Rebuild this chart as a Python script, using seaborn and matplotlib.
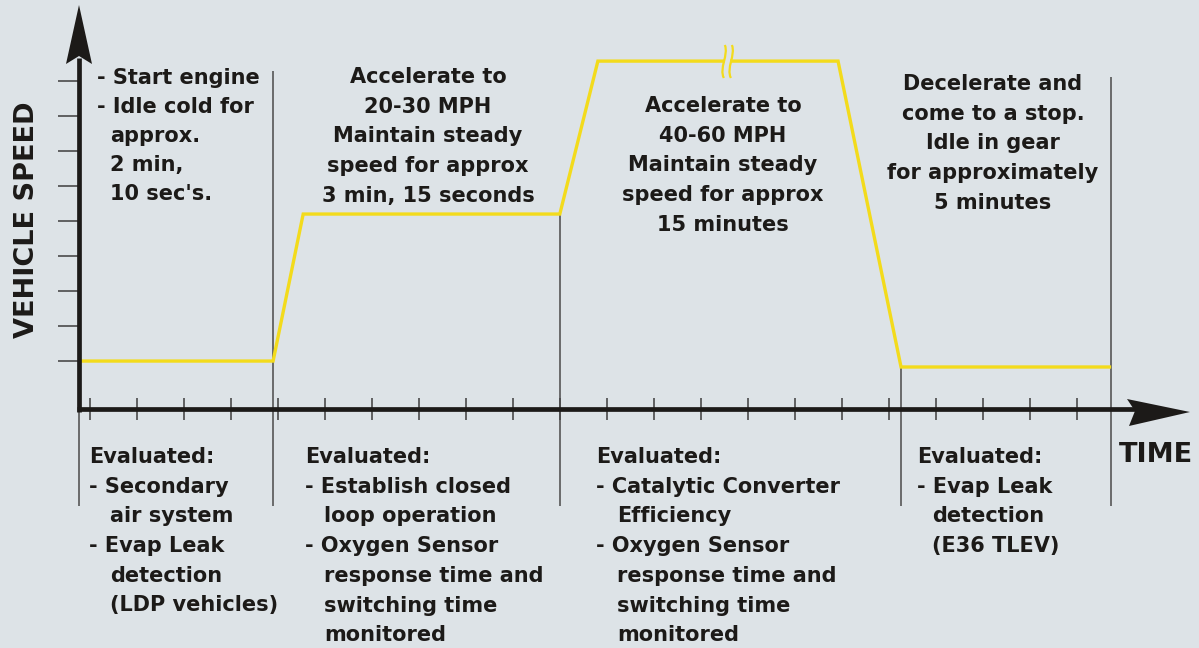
import numpy as np
import matplotlib
matplotlib.use("Agg")
import matplotlib.pyplot as plt
from matplotlib.path import Path
from matplotlib.patches import PathPatch
import seaborn as sns
import pandas as pd

# Units: one x tick step = 1 time unit, one y tick step = 1 speed unit,
# origin at the corner of the two axis arrows.
TIME  = [0.0, 4.13, 4.77, 10.23, 11.04, 16.15, 17.49, 21.96]
SPEED = [1.37, 1.37, 5.57, 5.57, 9.94, 9.94, 1.20, 1.20]

X_TICKS = [0.23, 1.23, 2.23, 3.23, 4.23, 5.23, 6.23, 7.23, 8.23, 9.23, 10.23,
           11.23, 12.23, 13.23, 14.23, 15.23, 16.23, 17.23, 18.23, 19.23,
           20.23, 21.23]
Y_TICKS = [1.37, 2.37, 3.37, 4.37, 5.37, 6.37, 7.37, 8.37, 9.37]

# phase dividers (x, top end); all run down to the bottom of the notes
DIV_X   = [0.0, 4.13, 10.23, 17.49, 21.96]
DIV_TOP = [0.0, 9.66, 5.57, 1.20, 9.49]
DIV_BOT = -2.77

BREAK_X = [13.72, 13.87]   # break mark on the 40-60 mph plateau

PHASE_TEXT = [
    ["- Start engine", "- Idle cold for", "  approx.", "  2 min,", "  10 sec's."],
    ["Accelerate to", "20-30 MPH", "Maintain steady", "speed for approx",
     "3 min, 15 seconds"],
    ["Accelerate to", "40-60 MPH", "Maintain steady", "speed for approx",
     "15 minutes"],
    ["Decelerate and", "come to a stop.", "Idle in gear", "for approximately",
     "5 minutes"],
]
EVAL_TEXT = [
    ["Evaluated:", "- Secondary", "  air system", "- Evap Leak", "  detection",
     "  (LDP vehicles)"],
    ["Evaluated:", "- Establish closed", "  loop operation", "- Oxygen Sensor",
     "  response time and", "  switching time", "  monitored"],
    ["Evaluated:", "- Catalytic Converter", "  Efficiency", "- Oxygen Sensor",
     "  response time and", "  switching time", "  monitored"],
    ["Evaluated:", "- Evap Leak", "  detection", "  (E36 TLEV)"],
]

BG     = "#dde3e7"
YELLOW = "#f3db1c"
INK    = "#1c1a18"
THIN   = "#4a4a4a"

W, H = 1199, 648
X0, Y0, XS, YS = 79, 409, 47, 35   # pixel position of origin, pixels per unit


def px(x, y):
    return (x - X0) / XS, (Y0 - y) / YS


def pxs(points):
    xs, ys = zip(*[px(*p) for p in points])
    return list(xs), list(ys)


sns.set_style("white")
plt.rcParams["font.family"] = ["DejaVu Sans"]

fig = plt.figure(figsize=(W / 100, H / 100), dpi=100, facecolor=BG)
ax = fig.add_axes([0, 0, 1, 1])
ax.set_facecolor(BG)
ax.set_xlim(-X0 / XS, (W - X0) / XS)
ax.set_ylim(-(H - Y0) / YS, Y0 / YS)
ax.axis("off")

# dividers and tick marks
ax.vlines(DIV_X, DIV_BOT, DIV_TOP, color=THIN, lw=1.1, zorder=1)
ax.vlines(X_TICKS, px(0, 420)[1], px(0, 398)[1], color=THIN, lw=1.2, zorder=2)
ax.hlines(Y_TICKS, px(58, 0)[0], 0, color=THIN, lw=1.2, zorder=2)

# speed trace
df = pd.DataFrame({"time": TIME, "speed": SPEED})
sns.lineplot(data=df, x="time", y="speed", sort=False, estimator=None,
             color=YELLOW, lw=2.4, ax=ax, zorder=3)
ax.lines[-1].set_solid_capstyle("butt")
ax.lines[-1].set_solid_joinstyle("miter")

# break mark on the top plateau
gap = [BREAK_X[0] + 0.02, BREAK_X[1] - 0.02]
ax.plot(gap, [SPEED[4]] * 2, color=BG, lw=4, zorder=4, solid_capstyle="butt")
for bx in BREAK_X:
    cx = X0 + bx * XS
    verts = [px(*v) for v in [(cx + 1, 45), (cx + 5, 55), (cx - 5, 68), (cx, 78)]]
    path = Path(verts, [Path.MOVETO, Path.CURVE4, Path.CURVE4, Path.CURVE4])
    ax.add_patch(PathPatch(path, fc="none", ec=YELLOW, lw=1.6, zorder=5))

# axis arrows (shaft + stealth head)
ax.plot(*pxs([(X0, Y0 + 2.5), (X0, 58)]), color=INK, lw=3.4,
        solid_capstyle="butt", zorder=6)
ax.plot(*pxs([(X0 - 2.5, Y0), (1138, Y0)]), color=INK, lw=3.4,
        solid_capstyle="butt", zorder=6)
ax.fill(*pxs([(X0, 5), (92, 64), (X0, 56), (66, 64)]), color=INK, lw=0,
        zorder=6)
ax.fill(*pxs([(1190, 412), (1127, 399), (1135, 411), (1129, 426)]),
        color=INK, lw=0, zorder=6)

ax.text(*px(27, 220), "VEHICLE SPEED", rotation=90, ha="center", va="center",
        fontsize=19.5, fontweight="bold", color=INK)
ax.text(*px(1156, 462), "TIME", ha="center", va="baseline",
        fontsize=19.5, fontweight="bold", color=INK)


def block(lines, x, y, ha="left", indent=0, pitch=29.7):
    for i, line in enumerate(lines):
        off = indent if line.startswith("  ") else 0
        ax.text(*px(x + off, y + i * pitch), line.strip(), ha=ha,
                va="baseline", fontsize=15, fontweight="bold", color=INK)


block(PHASE_TEXT[0], 97, 84, indent=13, pitch=29)
block(PHASE_TEXT[1], 428, 83, ha="center")
block(PHASE_TEXT[2], 723, 112, ha="center")
block(PHASE_TEXT[3], 993, 90, ha="center")

block(EVAL_TEXT[0], 89, 463, indent=21)
block(EVAL_TEXT[1], 305, 463, indent=19)
block(EVAL_TEXT[2], 596, 463, indent=21)
block(EVAL_TEXT[3], 917, 463, indent=15)

fig.savefig("out.png", dpi=100, facecolor=BG)
